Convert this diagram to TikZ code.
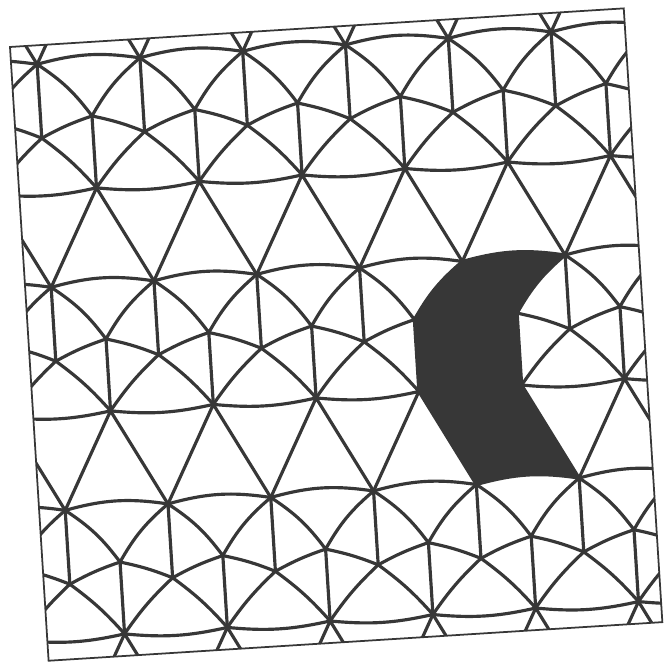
\documentclass[tikz,border=0pt]{standalone}
\usepackage{tikz}
\usetikzlibrary{calc}
\definecolor{cInk}{RGB}{55,55,55}
\tikzset{
	tileline/.style ={line width=1.8pt, draw=cInk, line cap=round, line join=round},
	tileframe/.style={line width=1pt, draw=cInk},
	darkpiece/.style={fill=cInk, draw=none},
	% bent edges of the squeezed triangles
	archup/.style   ={bend left=12},
	archback/.style ={bend right=12},
	sagdown/.style  ={bend right=9},
	zig/.style      ={bend left=5},
	slantarc/.style ={bend left=10},
	slantback/.style={bend right=10},
	footarc/.style  ={bend left=6},
}
\begin{document}
\begin{tikzpicture}[x=0.02cm, y=0.02cm]
	\useasboundingbox (0,0) rectangle (664,662);
	\begin{scope}[shift={(10,615)}, rotate=3.6]
		\begin{scope}
			\clip (0,0) rectangle (615,-615);
			\foreach \j in {0,...,4} {
				\pgfmathsetmacro{\rowy}{-(19+223.5*(\j-1))}
				\foreach \k in {0,...,7} {
					\coordinate (T\j-\k) at ({26+103*(\k-1)}, \rowy);
					\coordinate (L\j-\k) at ({26+103*(\k-1)}, \rowy-74);
					\coordinate (H\j-\k) at ({77.5+103*(\k-1)}, \rowy-55);
					\coordinate (B\j-\k) at ({77.5+103*(\k-1)}, \rowy-127);
				}
			}
			\fill[darkpiece] (T2-5) to[archup] (T2-6) to[slantback] (H2-5) -- (B2-5) -- (T3-6)
				to[archback] (T3-5) -- (B2-4) -- (H2-4) to[slantarc] (T2-5) -- cycle;
			\foreach \j in {1,2,3}
				\foreach \k in {0,...,6} {
					\pgfmathtruncatemacro{\kn}{\k+1}
					\draw[tileline] (T\j-\k) to[archup] (T\j-\kn);
					\draw[tileline] (B\j-\k) to[sagdown] (B\j-\kn);
					\draw[tileline] (L\j-\k) to[zig] (H\j-\k) to[zig] (L\j-\kn);
					\draw[tileline] (T\j-\k) -- (L\j-\k) (H\j-\k) -- (B\j-\k);
					\draw[tileline] (T\j-\k) to[slantarc] (H\j-\k) to[slantarc] (T\j-\kn);
					\draw[tileline] (L\j-\k) to[footarc] (B\j-\k) to[footarc] (L\j-\kn);
				}
			\foreach \j in {0,...,3}
				\foreach \k in {0,...,6} {
					\pgfmathtruncatemacro{\jn}{\j+1}
					\pgfmathtruncatemacro{\kn}{\k+1}
					\draw[tileline] (T\jn-\k) -- (B\j-\k) -- (T\jn-\kn);
				}
		\end{scope}
		\draw[tileframe] (0,0) rectangle (615,-615);
	\end{scope}
\end{tikzpicture}
\end{document}
